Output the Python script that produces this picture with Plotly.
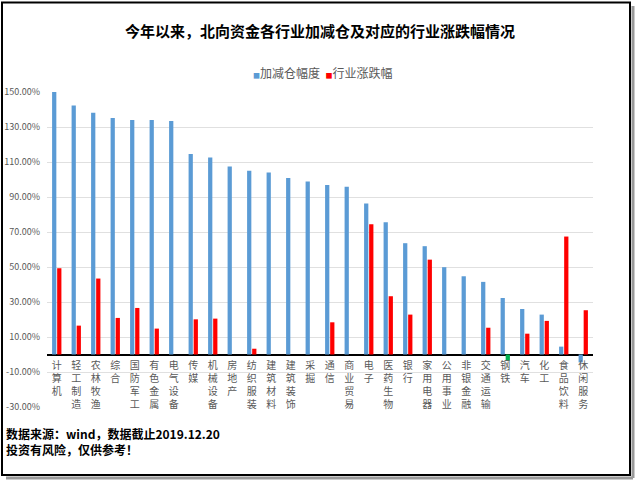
import plotly.graph_objects as go

# industries, left to right
industries = ["计算机", "轻工制造", "农林牧渔", "综合", "国防军工", "有色金属", "电气设备",
              "传媒", "机械设备", "房地产", "纺织服装", "建筑材料", "建筑装饰", "采掘",
              "通信", "商业贸易", "电子", "医药生物", "银行", "家用电器", "公用事业",
              "非银金融", "交通运输", "钢铁", "汽车", "化工", "食品饮料", "休闲服务"]

# 加减仓幅度 (%)
position_change = [150.0, 142.3, 138.2, 135.1, 134.0, 134.0, 133.4,
                   114.6, 112.6, 107.4, 105.0, 104.0, 100.8, 98.9,
                   96.8, 95.8, 86.3, 75.6, 63.6, 61.9, 49.9,
                   44.7, 41.5, 32.3, 26.0, 22.8, 4.5, -4.5]

# 行业涨跌幅 (%), None where the chart shows no bar
industry_return = [49.3, 16.5, 43.4, 20.9, 26.6, 14.8, None,
                   20.1, 20.5, None, 3.3, None, None, None,
                   18.4, None, 74.5, 33.3, 22.8, 54.2, None,
                   None, 15.3, -3.6, 11.9, 19.2, 67.4, 25.3]

y_ticks = [-30, -10, 10, 30, 50, 70, 90, 110, 130, 150]

BLUE = "#5B9BD5"
RED = "#FF0000"
GREEN = "#00B050"
GREY = "#595959"

# plot area in pixels (640 x 485 page)
W, H = 640, 485
L, R, T, B = 47, 593, 92, 407


def px(x):
    return (x - L) / (R - L)


def py(y):
    return (B - y) / (B - T)


# vertical labels: one character per line
tick_text = ["<br>".join(name) for name in industries]
y_tick_text = [f"{v:.2f}%" for v in y_ticks]
red_colors = [GREEN if (v is not None and v < 0) else RED for v in industry_return]

fig = go.Figure()
fig.add_trace(go.Bar(x=industries, y=position_change, name="加减仓幅度",
                     marker=dict(color=BLUE, line=dict(width=0))))
fig.add_trace(go.Bar(x=industries, y=industry_return, name="行业涨跌幅",
                     marker=dict(color=red_colors, line=dict(width=0))))

zero_pos = (0 - y_ticks[0]) / (y_ticks[-1] - y_ticks[0])

fig.update_layout(
    width=W, height=H,
    margin=dict(l=L, r=W - R, t=T, b=H - B, pad=0),
    paper_bgcolor="white",
    plot_bgcolor="rgba(0,0,0,0)",
    barmode="group",
    bargap=0.48,
    bargroupgap=0.16,
    showlegend=False,
    font=dict(family="Noto Sans CJK SC, Noto Sans, sans-serif", color=GREY),
    title=dict(text="<b>今年以来，北向资金各行业加减仓及对应的行业涨跌幅情况</b>",
               x=0.5, xanchor="center", y=1 - 32 / H, yanchor="middle",
               font=dict(size=15, color="black")),
    xaxis=dict(
        type="category",
        tickmode="array", tickvals=industries, ticktext=tick_text,
        tickangle=0, tickfont=dict(size=10, color=GREY),
        showgrid=False, showline=False, ticks="", automargin=False,
        anchor="free", position=zero_pos,
        ticklabelstandoff=3,
    ),
    yaxis=dict(
        range=[y_ticks[0], y_ticks[-1]],
        tickmode="array", tickvals=y_ticks, ticktext=y_tick_text,
        tickfont=dict(size=9, color=GREY),
        showgrid=True, gridcolor="#E0E0E0", gridwidth=1,
        zeroline=True, zerolinecolor="black", zerolinewidth=2,
        showline=False, ticks="", ticklabelstandoff=6, automargin=False,
    ),
)

# legend line, written as text with coloured squares
fig.add_annotation(
    xref="paper", yref="paper", x=px(322), y=py(72), xanchor="center", yanchor="middle",
    showarrow=False,
    text=(f"<span style='color:{BLUE};font-size:7px'>■</span>加减仓幅度&nbsp;&nbsp;"
          f"<span style='color:{RED};font-size:7px'>■</span>行业涨跌幅"),
    font=dict(size=12, color=GREY),
)

# footer notes
fig.add_annotation(
    xref="paper", yref="paper", x=px(4), y=py(441), xanchor="left", yanchor="middle",
    align="left", showarrow=False,
    text="<b>数据来源：wind，数据截止2019.12.20<br>投资有风险，仅供参考！</b>",
    font=dict(size=12, color="black"),
)

# frame with a soft shadow
fig.add_shape(type="line", xref="paper", yref="paper",
              x0=px(633), x1=px(633), y0=py(6), y1=py(478),
              line=dict(color="#9A9A9A", width=3))
fig.add_shape(type="line", xref="paper", yref="paper",
              x0=px(6), x1=px(633), y0=py(478), y1=py(478),
              line=dict(color="#9A9A9A", width=3))
fig.add_shape(type="rect", xref="paper", yref="paper",
              x0=px(2), x1=px(630), y0=py(2.5), y1=py(475),
              line=dict(color="black", width=2))

# the page's default body margin would shift the whole figure
fig.write_html("out.html", config={"displayModeBar": False},
               post_script="document.body.style.margin='0';")
